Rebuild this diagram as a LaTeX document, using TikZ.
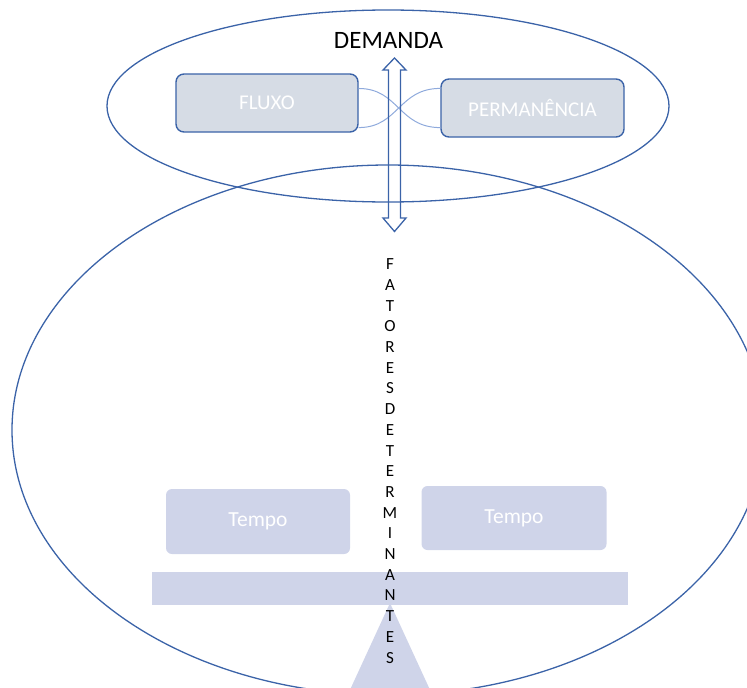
\documentclass[tikz,border=0pt]{standalone}
\usepackage{fontspec}
\setmainfont{Carlito}
\definecolor{lineblue}{HTML}{3B63A8}
\definecolor{linklight}{HTML}{8FAADC}
\definecolor{boxgray}{HTML}{D6DCE5}
\definecolor{scalefill}{HTML}{CFD4E9}
\tikzset{
  outline/.style={draw=lineblue, line width=1.3pt},
  topbox/.style={draw=lineblue, line width=1.4pt, fill=boxgray, rounded corners=8pt,
    text=white, font=\fontsize{21}{25}\selectfont, inner sep=0pt},
  pan/.style={fill=scalefill, rounded corners=6pt, text=white,
    font=\fontsize{21.5}{25}\selectfont, inner sep=0pt},
  link/.style={draw=linklight, line width=1pt},
}
\begin{document}
\begin{tikzpicture}[x=1pt,y=-1pt]
\useasboundingbox (0,0) rectangle (747,688);
\begin{scope}
\clip (0,0) rectangle (747,688);

% balance: two pans, beam and pivot
\node[pan, minimum width=184pt, minimum height=65pt] (tempoL) at (258,521.5) {Tempo};
\node[pan, minimum width=185pt, minimum height=64pt] (tempoR) at (514,518) {Tempo};
\node[fill=scalefill, minimum width=476pt, minimum height=33pt, inner sep=0pt] (beam) at (390,588.5) {};
\fill[scalefill] (390,603) -- (349,692) -- (431,692) -- cycle;

% demand boxes
\node[topbox, minimum width=182pt, minimum height=58pt] (fluxo) at (267,103) {FLUXO};
\node[topbox, minimum width=183pt, minimum height=58pt] (perm) at (532.5,108) {PERMANÊNCIA};

% crossing links between the boxes
\draw[link] (fluxo.9) .. controls +(40,0) and +(-42,0) .. (perm.192);
\draw[link] (fluxo.-15) .. controls +(40,0) and +(-42,0) .. (perm.168);

% ellipses
\draw[outline] (388,106) ellipse [x radius=281, y radius=96];
\draw[outline] (388,430) ellipse [x radius=376, y radius=265];

% double arrow
\draw[outline, line join=miter]
  (394.5,58) -- (406,70) -- (400.5,70) -- (400.5,218) -- (406,218)
  -- (394.5,231.5) -- (383,218) -- (388.5,218) -- (388.5,70) -- (383,70) -- cycle;

\node[font=\fontsize{25}{30}\selectfont] (demanda) at (388.5,40) {DEMANDA};

% vertical label
\node[font=\fontsize{17}{20.7}\selectfont, align=center, inner sep=0pt] (fatores) at (390,461)
  {F\\A\\T\\O\\R\\E\\S\\D\\E\\T\\E\\R\\M\\I\\N\\A\\N\\T\\E\\S};
\end{scope}
\end{tikzpicture}
\end{document}
